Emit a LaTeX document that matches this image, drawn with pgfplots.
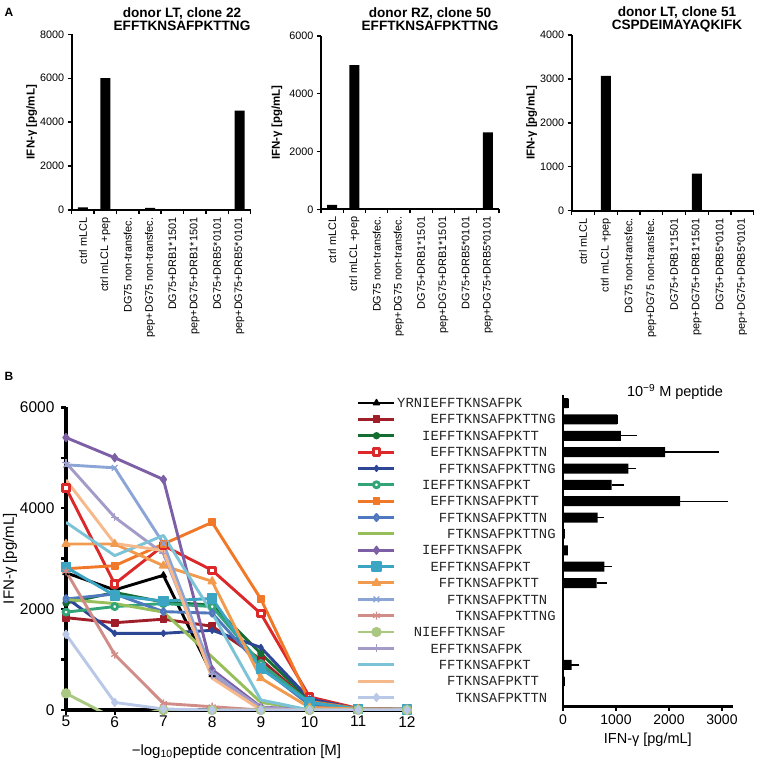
\documentclass[border=0pt]{standalone}
\usepackage{pgfplots}
\pgfplotsset{compat=1.18}
\usepackage{pgfplotstable}
\usepackage{fontspec}
\setmainfont{Liberation Sans}
\newfontfamily\monof{Liberation Mono}
\usetikzlibrary{plotmarks}
\definecolor{c1}{RGB}{0,0,0}
\definecolor{c2}{RGB}{160,30,40}
\definecolor{c3}{RGB}{20,110,50}
\definecolor{c4}{RGB}{220,40,40}
\definecolor{c5}{RGB}{45,70,150}
\definecolor{c6}{RGB}{50,165,120}
\definecolor{c7}{RGB}{240,120,40}
\definecolor{c8}{RGB}{80,120,190}
\definecolor{c9}{RGB}{150,190,90}
\definecolor{c10}{RGB}{125,95,165}
\definecolor{c11}{RGB}{60,165,195}
\definecolor{c12}{RGB}{240,155,80}
\definecolor{c13}{RGB}{140,165,215}
\definecolor{c14}{RGB}{210,140,135}
\definecolor{c15}{RGB}{170,200,130}
\definecolor{c16}{RGB}{165,155,200}
\definecolor{c17}{RGB}{125,195,215}
\definecolor{c18}{RGB}{245,185,140}
\definecolor{c19}{RGB}{185,200,230}
\pgfplotsset{/pgf/number format/1000 sep={}, /pgf/number format/assume math mode=true}
\pgfplotstableread{
x s1 s2 s3 s4 s5 s6 s7 s8 s9 s10 s11 s12 s13 s14 s15 s16 s17 s18 s19
5 2720 1830 2120 4400 2230 1940 2800 2200 2190 5400 2830 3290 4860 2750 330 4900 3720 4560 1500
6 2380 1730 2330 2500 1520 2050 2860 2300 2110 5000 2270 3290 4800 1100 -170 3820 3060 3300 150
7 2670 1800 2140 3260 1520 2110 3290 1950 1940 4570 2160 2860 3300 130 0 3100 3460 3160 20
8 700 1660 2080 2770 1580 2050 3720 1920 1050 800 2210 2550 750 65 0 700 1920 630 0
9 30 1000 1120 1910 1240 920 2200 850 150 60 820 630 20 0 0 50 200 0 0
10 0 150 200 260 220 150 170 100 0 0 150 50 0 0 0 0 0 0 0
11 0 20 20 30 20 20 30 20 0 0 20 20 0 0 0 0 0 0 0
12 0 10 10 10 10 10 10 10 0 0 10 10 0 0 0 0 0 0 0
}\linedata
\pgfplotstableread{
r v e
1 100 0
2 1020 0
3 1090 225
4 1925 930
5 1233 63
6 918 157
7 2208 817
8 654 32
9 30 0
10 90 0
11 780 56
12 635 107
13 0 0
14 0 0
15 0 0
16 0 0
17 163 63
18 25 0
19 0 0
}\bardata
\pgfplotsset{
 pA/.style={
  anchor=south west, scale only axis, axis lines*=left,
  axis line style={line width=2.2pt},
  tick style={black, line width=1.4pt},
  major tick length=4pt, tick align=outside,
  xmin=0, xmax=8, ymin=0,
  xtick={0,...,8}, x tick label as interval,
  xticklabels={ctrl mLCL, ctrl mLCL +pep, DG75 non-transfec., pep+DG75 non-transfec., DG75+DRB1*1501, pep+DG75+DRB1*1501, DG75+DRB5*0101, pep+DG75+DRB5*0101},
  xticklabel style={rotate=90, anchor=east, font=\fontsize{10.9}{12}\selectfont},
  yticklabel style={font=\fontsize{10.8}{12}\selectfont},
  ylabel={IFN-γ [pg/mL]},
 },
 lp/.style={line width=2.9pt, line join=round, mark options={solid, line width=1.3pt}},
}
\begin{document}
\begin{tikzpicture}
\path[use as bounding box] (0pt,0pt) rectangle (760pt,764pt);
% Panel A1
\begin{axis}[pA, at={(71.7pt,554pt)}, width=179pt, height=175.7pt, ymax=8000, ytick={0,2000,...,8000},
  every axis y label/.style={at={(axis description cs:-0.2235,0.5)}, rotate=90, anchor=center, font=\bfseries\fontsize{11.5}{12}\selectfont}]
\addplot[ybar, bar width=10pt, fill=black, draw=none] coordinates {(0.5,120) (1.5,6000) (2.5,0) (3.5,100) (4.5,0) (5.5,0) (6.5,0) (7.5,4520)};
\end{axis}
% Panel A2
\begin{axis}[pA, at={(321pt,554.7pt)}, width=178pt, height=173.3pt, ymax=6000, ytick={0,2000,...,6000},
  every axis y label/.style={at={(axis description cs:-0.247,0.5)}, rotate=90, anchor=center, font=\bfseries\fontsize{11.5}{12}\selectfont}]
\addplot[ybar, bar width=10pt, fill=black, draw=none] coordinates {(0.5,150) (1.5,4990) (2.5,0) (3.5,0) (4.5,0) (5.5,0) (6.5,0) (7.5,2660)};
\end{axis}
% Panel A3
\begin{axis}[pA, at={(571.7pt,553.3pt)}, width=182pt, height=175.7pt, ymax=4000, ytick={0,1000,...,4000},
  every axis y label/.style={at={(axis description cs:-0.22,0.5)}, rotate=90, anchor=center, font=\bfseries\fontsize{11.5}{12}\selectfont}]
\addplot[ybar, bar width=10pt, fill=black, draw=none] coordinates {(0.5,0) (1.5,3070) (2.5,0) (3.5,10) (4.5,0) (5.5,845) (6.5,0) (7.5,10)};
\end{axis}
% Panel B line chart
\begin{axis}[at={(66pt,54pt)}, anchor=south west, scale only axis, width=341pt, height=302.7pt,
  xmin=5, xmax=12, ymin=0, ymax=6000, axis lines*=left, axis line style={line width=3.2pt},
  xtick={5,...,12}, ytick={0,2000,4000,6000}, minor ytick={1000,3000,5000},
  major tick length=5pt, minor tick length=5pt, tick align=outside,
  tick style={black, line width=2.4pt},
  tick label style={font=\fontsize{15.5}{16}\selectfont},
  xticklabel style={inner sep=0pt, yshift=-1pt},
  yticklabel style={xshift=-3pt},
  xlabel={−log\textsubscript{10}peptide concentration [M]},
  ylabel={IFN-γ [pg/mL]},
  every axis y label/.style={at={(axis description cs:-0.1642,0.5)}, rotate=90, anchor=center, font=\fontsize{15}{16}\selectfont},
  every axis x label/.style={at={(axis description cs:0.5,-0.1378)}, anchor=center, font=\fontsize{15}{16}\selectfont},
  legend style={at={(0.8534,1.0413)}, anchor=north west, draw=none, fill=none, inner sep=0pt, outer sep=0pt, row sep=0pt, column sep=0pt,
    nodes={inner sep=0pt, outer sep=0pt, text height=8.18pt, text depth=8.18pt}},
  legend cell align=left,
  legend image code/.code={\draw[mark repeat=2,mark phase=2] plot coordinates {(0pt,0pt) (18pt,0pt) (36pt,0pt)};},
]
\addplot[lp, c1, mark=triangle*, mark size=3.5pt] table[x=x,y=s1] {\linedata}; \addlegendentry{\phantom{x}}
\addplot[lp, c2, mark=square*, mark size=3.2pt] table[x=x,y=s2] {\linedata}; \addlegendentry{\phantom{x}}
\addplot[lp, c3, mark=*, mark size=3pt] table[x=x,y=s3] {\linedata}; \addlegendentry{\phantom{x}}
\addplot[lp, c4, mark=square*, mark size=3.2pt, mark options={fill=white}] table[x=x,y=s4] {\linedata}; \addlegendentry{\phantom{x}}
\addplot[lp, c5, mark=diamond*, mark size=3pt] table[x=x,y=s5] {\linedata}; \addlegendentry{\phantom{x}}
\addplot[lp, c6, mark=*, mark size=3pt, mark options={fill=white}] table[x=x,y=s6] {\linedata}; \addlegendentry{\phantom{x}}
\addplot[lp, c7, mark=square*, mark size=3.2pt] table[x=x,y=s7] {\linedata}; \addlegendentry{\phantom{x}}
\addplot[lp, c8, mark=diamond*, mark size=3pt, mark options={fill=white}] table[x=x,y=s8] {\linedata}; \addlegendentry{\phantom{x}}
\addplot[lp, c9, no marks] table[x=x,y=s9] {\linedata}; \addlegendentry{\phantom{x}}
\addplot[lp, c10, mark=diamond*, mark size=4pt] table[x=x,y=s10] {\linedata}; \addlegendentry{\phantom{x}}
\addplot[lp, c11, mark=square*, mark size=4.5pt] table[x=x,y=s11] {\linedata}; \addlegendentry{\phantom{x}}
\addplot[lp, c12, mark=triangle*, mark size=4.5pt] table[x=x,y=s12] {\linedata}; \addlegendentry{\phantom{x}}
\addplot[lp, c13, mark=x, mark size=4pt] table[x=x,y=s13] {\linedata}; \addlegendentry{\phantom{x}}
\addplot[lp, c14, mark=asterisk, mark size=4pt] table[x=x,y=s14] {\linedata}; \addlegendentry{\phantom{x}}
\addplot[lp, c15, mark=*, mark size=4.5pt] table[x=x,y=s15] {\linedata}; \addlegendentry{\phantom{x}}
\addplot[lp, c16, mark=+, mark size=4pt] table[x=x,y=s16] {\linedata}; \addlegendentry{\phantom{x}}
\addplot[lp, c17, no marks] table[x=x,y=s17] {\linedata}; \addlegendentry{\phantom{x}}
\addplot[lp, c18, no marks] table[x=x,y=s18] {\linedata}; \addlegendentry{\phantom{x}}
\addplot[lp, c19, mark=diamond*, mark size=4pt] table[x=x,y=s19] {\linedata}; \addlegendentry{\phantom{x}}
\end{axis}
% Panel B bar chart
\begin{axis}[at={(563pt,57.3pt)}, anchor=south west, scale only axis, width=169.6pt, height=311.7pt,
  xmin=0, xmax=3200, ymin=0.51, ymax=19.55, y dir=reverse,
  axis lines*=left, axis line style={line width=2.5pt},
  xtick={0,1000,2000,3000}, ytick={1,...,19},
  yticklabels={
   YRNIEFFTKNSAFPK,
   \hphantom{0000}EFFTKNSAFPKTTNG,
   \hphantom{000}IEFFTKNSAFPKTT,
   \hphantom{0000}EFFTKNSAFPKTTN,
   \hphantom{00000}FFTKNSAFPKTTNG,
   \hphantom{000}IEFFTKNSAFPKT,
   \hphantom{0000}EFFTKNSAFPKTT,
   \hphantom{00000}FFTKNSAFPKTTN,
   \hphantom{000000}FTKNSAFPKTTNG,
   \hphantom{000}IEFFTKNSAFPK,
   \hphantom{0000}EFFTKNSAFPKT,
   \hphantom{00000}FFTKNSAFPKTT,
   \hphantom{000000}FTKNSAFPKTTN,
   \hphantom{0000000}TKNSAFPKTTNG,
   \hphantom{00}NIEFFTKNSAF,
   \hphantom{0000}EFFTKNSAFPK,
   \hphantom{00000}FFTKNSAFPKT,
   \hphantom{000000}FTKNSAFPKTT,
   \hphantom{0000000}TKNSAFPKTTN},
  y tick style={draw=none}, x tick style={black, line width=1.4pt},
  major tick length=4pt, tick align=outside,
  xticklabel style={font=\fontsize{14}{15}\selectfont},
  yticklabel style={font=\monof\fontsize{13.9}{14}\selectfont, anchor=west, inner sep=0pt, xshift=-162pt, text=black!85},
  xlabel={IFN-γ [pg/mL]},
  every axis x label/.style={at={(axis description cs:0.5,-0.107)}, anchor=center, font=\fontsize{14.5}{15}\selectfont},
]
\addplot[xbar, bar width=10pt, fill=black, draw=none,
  error bars/.cd, x dir=plus, x explicit,
  error bar style={line width=1.3pt, black},
  error mark options={black, mark size=4.5pt, line width=1.3pt}]
  table[x=v, y=r, x error=e] {\bardata};
\end{axis}
% Titles and panel letters
\node[font=\bfseries\fontsize{13.6}{12.5}\selectfont, align=center] at (182pt,744.7pt) {donor LT, clone 22\\EFFTKNSAFPKTTNG};
\node[font=\bfseries\fontsize{13.6}{12.5}\selectfont, align=center] at (430pt,744.7pt) {donor RZ, clone 50\\EFFTKNSAFPKTTNG};
\node[font=\bfseries\fontsize{13.6}{12.5}\selectfont, align=center] at (677pt,744.7pt) {donor LT, clone 51\\CSPDEIMAYAQKIFK};
\node[font=\bfseries\fontsize{12}{12}\selectfont] at (9pt,752pt) {A};
\node[font=\bfseries\fontsize{12}{12}\selectfont] at (9pt,388pt) {B};
\node[font=\fontsize{14.5}{15}\selectfont] at (675pt,372pt) {10\textsuperscript{−9} M peptide};
\end{tikzpicture}
\end{document}
